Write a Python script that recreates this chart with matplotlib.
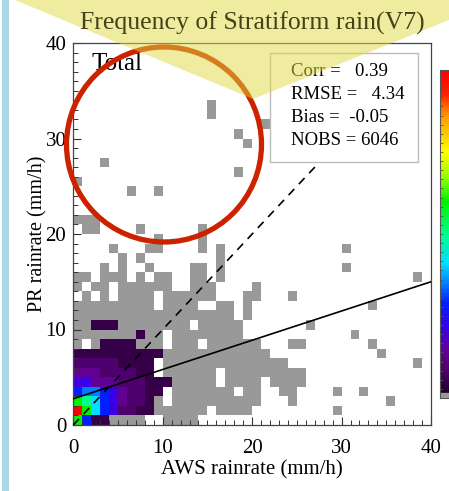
import numpy as np
import matplotlib
matplotlib.use('Agg')
import matplotlib.pyplot as plt
from matplotlib.colors import LinearSegmentedColormap, Normalize
from matplotlib.patches import Polygon, Ellipse, Rectangle
from matplotlib.ticker import MultipleLocator

plt.rcParams['font.family'] = ['Liberation Serif', 'DejaVu Serif']

# ---------------- data ----------------
title = "Frequency of Stratiform rain(V7)"
panel_label = "Total"
xlabel = "AWS rainrate (mm/h)"
ylabel = "PR rainrate (mm/h)"
xticks = [0, 10, 20, 30, 40]
yticks = [0, 10, 20, 30, 40]
stat_lines = ["Corr =   0.39", "RMSE =   4.34", "Bias =  -0.05", "NOBS = 6046"]
fit_x = [0, 40]
fit_y = [2.75, 15.0]
one_to_one_x = [0, 27.5]
one_to_one_y = [0, 27.5]
bin_edges = list(range(41))
count_max = 500

# frequency class of each 1 mm/h bin -> count
level_counts = {'.': 0, 'g': 3, '1': 25, '2': 45, '3': 70, '4': 105, '5': 145,
                '6': 175, '7': 205, '8': 250, '9': 300, 'R': 500}

# rows from PR 0-1 (bottom) upward, columns AWS 0..39
grid_rows = [
    "9511gggg..gggg",
    "R97542211gggggg.gggg.........g",
    "987543221g.gggggggggg...g..........g",
    "5665432211.ggggggg.gg..gg....g..g",
    "44333222111ggggg.gggg.gggg",
    "333222211.gggggg.ggggggggg",
    "222221111.gggggggggggggg..............g",
    "1111111111gggggggggggg............g",
    "g.g1111ggg.ggg.gggggg...gg.......g",
    "ggggggg1gg.gggggggg............g",
    "gg111gggggggg.ggggg.......g",
    "gggggggggggggggggg.g",
    "ggggggggg.gggg..gg.g.............g",
    ".g.g.gggg.gggggg...gg...g",
    "g.gg.gggggg..ggg....g",
    "gg.ggg.g.gg..gg.g.....................g",
    "...g.g..g....gg.g.............g",
    ".....g.g........g",
    "....g...gg....g.g.............g",
    ".........g....g",
    ".gg....g......g",
    "ggg",
    "",
    "",
    "......g..g",
    "g",
    "..................g",
    "...g",
    "",
    "...................g",
    "..................g",
    ".....................g",
    "...............g",
    "...............g",
    "", "", "", "", "", "",
]

counts = np.array([[level_counts[c] for c in row.ljust(40, '.')] for row in grid_rows], dtype=float)
counts = np.ma.masked_where(counts == 0, counts)

# rainbow colour table with a grey lowest class
cmap = LinearSegmentedColormap.from_list("idl_rainbow", [
    (0.0, (0.6, 0.6, 0.6)),
    (0.014, (0.6, 0.6, 0.6)),
    (0.016, (0.12, 0.0, 0.16)),
    (0.066, (0.26, 0.0, 0.36)),
    (0.147, (0.40, 0.0, 0.60)),
    (0.21, (0.22, 0.0, 0.9)),
    (0.29, (0.0, 0.12, 1.0)),
    (0.35, (0.0, 0.5, 1.0)),
    (0.41, (0.0, 0.88, 1.0)),
    (0.5, (0.0, 1.0, 0.55)),
    (0.6, (0.0, 0.95, 0.0)),
    (0.675, (0.6, 1.0, 0.0)),
    (0.75, (1.0, 1.0, 0.0)),
    (0.86, (1.0, 0.6, 0.0)),
    (0.93, (1.0, 0.12, 0.0)),
    (1.0, (1.0, 0.0, 0.0)),
])
norm = Normalize(vmin=0, vmax=count_max)

# ---------------- figure ----------------
W, H = 449, 491
fig = plt.figure(figsize=(W / 100, H / 100), dpi=100)

def fx(px):
    return px / W

def fy(py):
    return 1 - py / H

ax = fig.add_axes([fx(73.3), fy(425), fx(431) - fx(73.3), fy(43) - fy(425)])
mesh = ax.pcolormesh(bin_edges, bin_edges, counts, cmap=cmap, norm=norm, zorder=1)
ax.plot(fit_x, fit_y, color='black', lw=1.2, zorder=3)
ax.plot(one_to_one_x, one_to_one_y, color='black', lw=1.2, ls=(0, (5, 4)), zorder=3)
ax.set_xlim(0, 40)
ax.set_ylim(0, 40)
ax.set_xticks(xticks)
ax.set_yticks(yticks)
ax.xaxis.set_minor_locator(MultipleLocator(1))
ax.yaxis.set_minor_locator(MultipleLocator(1))
ax.tick_params(which='both', direction='in', top=False, right=False, labelsize=15,
               color='#333333')
ax.tick_params(which='major', length=6, width=0.8, pad=5)
ax.tick_params(axis='x', which='major', pad=10)
ax.tick_params(which='minor', length=3.5, width=0.7)
for s in ax.spines.values():
    s.set_color('#444444')
    s.set_linewidth(0.9)
ax.set_xlabel(xlabel, fontsize=15, labelpad=2)
ax.set_ylabel(ylabel, fontsize=14.5, labelpad=-1.5)

ax.text(0.052, 0.975, panel_label, transform=ax.transAxes, fontsize=18,
        ha='left', va='top', zorder=4)

# statistics box
ax.add_patch(Rectangle((22.0, 27.5), 16.55, 11.45, facecolor='white',
                       edgecolor='#bbbbbb', lw=1.0, zorder=4))
for i, line in enumerate(stat_lines):
    fig.text(fx(291), fy(76 + 23 * i), line, fontsize=13.5, ha='left',
             va='baseline', zorder=5)

# colour bar (cut by the right edge)
cax = fig.add_axes([fx(440), fy(398), fx(14), fy(70) - fy(398)])
cb = fig.colorbar(mesh, cax=cax)
cb.outline.set_edgecolor('#555555')
cax.yaxis.set_ticks_position('left')
cax.yaxis.set_major_locator(MultipleLocator(count_max / 36))
cax.tick_params(direction='in', length=2.5, width=0.6, labelleft=False,
                labelright=False, color='#555555')

# annotation overlays of the screenshot
fig.add_artist(Rectangle((fx(2), 0), fx(7), 1, transform=fig.transFigure,
                         facecolor='#a9d8e6', edgecolor='none', zorder=2))
fig.add_artist(Ellipse((fx(164), fy(144.5)), 2 * 97.5 / W, 2 * 97.5 / H,
                       transform=fig.transFigure, fill=False,
                       edgecolor='#cc2200', lw=3.8, zorder=5))
fig.add_artist(Polygon([(fx(15), fy(0)), (fx(449), fy(0)), (fx(449), fy(20)),
                        (fx(253), fy(99))], closed=True, transform=fig.transFigure,
                       facecolor=(0.88, 0.85, 0.25), edgecolor='none', alpha=0.5,
                       zorder=6))

# title (seen through the yellow overlay)
fig.text(fx(252), fy(30), title, fontsize=18.5, ha='center', va='baseline',
         color='#45421a', zorder=7)

fig.savefig('out.png', dpi=100)
